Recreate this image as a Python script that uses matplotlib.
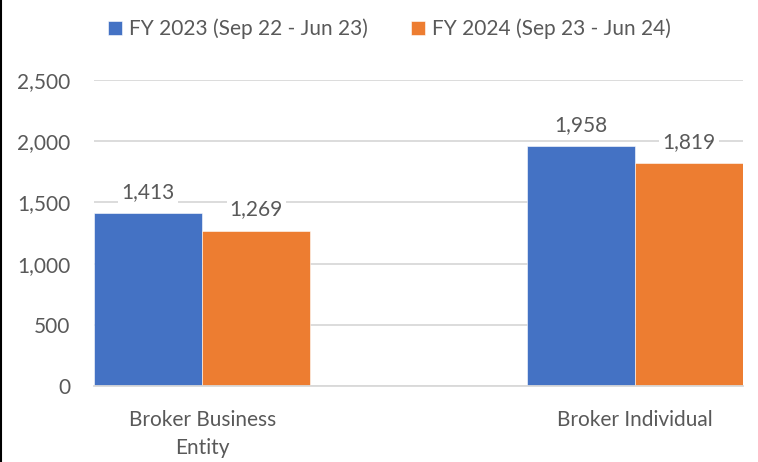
import numpy as np
import matplotlib.pyplot as plt
from matplotlib.lines import Line2D

categories = ["Broker Business\nEntity", "Broker Individual"]
series_names = ["FY 2023 (Sep 22 - Jun 23)", "FY 2024 (Sep 23 - Jun 24)"]
fy2023 = [1413, 1958]
fy2024 = [1269, 1819]
colors = ["#4472C4", "#ED7D31"]

plt.rcParams['font.family'] = ['Lato', 'DejaVu Sans']
text_color = "#595959"
grid_color = "#D9D9D9"
fs = 15

fig = plt.figure(figsize=(7.58, 4.62), dpi=100)
ax = fig.add_axes([94 / 758, 1 - 386 / 462, (743 - 94) / 758, (386 - 80) / 462])

x = np.arange(len(categories))
w = 0.25
bars = []
for i, vals in enumerate([fy2023, fy2024]):
    b = ax.bar(x + (i - 0.5) * w, vals, width=w, color=colors[i],
               edgecolor="white", linewidth=0.4, zorder=3, label=series_names[i])
    bars.append(b)
    for rect, v in zip(b, vals):
        ax.annotate(f"{v:,}", xy=(rect.get_x() + rect.get_width() / 2, v),
                    xytext=(0, 8), textcoords="offset points",
                    ha="center", va="bottom", fontsize=fs, color=text_color,
                    bbox=dict(boxstyle="square,pad=0.15", fc="white", ec="none"),
                    zorder=4)

ax.set_xlim(-0.25, 1.25)
ax.set_ylim(0, 2500)
ax.set_yticks(range(0, 2501, 500))
ax.yaxis.set_major_formatter(plt.FuncFormatter(lambda v, _: f"{int(v):,}"))
ax.set_xticks(x)
ax.set_xticklabels(categories, linespacing=1.55)
ax.tick_params(axis="both", length=0, labelsize=fs, colors=text_color)
ax.tick_params(axis="y", pad=17)
ax.tick_params(axis="x", pad=17)
ax.grid(axis="y", color=grid_color, linewidth=1.3, zorder=0)

for s in ["top", "right", "left"]:
    ax.spines[s].set_visible(False)
ax.spines["bottom"].set_color(grid_color)
ax.spines["bottom"].set_linewidth(1.3)
ax.spines["bottom"].set_zorder(5)

fig.legend(handles=[b[0] for b in bars], labels=series_names, loc="center",
           bbox_to_anchor=(0.514, 1 - 29 / 462), ncol=2, frameon=False,
           fontsize=fs, labelcolor=text_color, handlelength=0.65,
           handleheight=0.65, handletextpad=0.35, columnspacing=2.1)

# left edge border line
fig.add_artist(Line2D([0.001, 0.001], [0, 1], color="black", linewidth=1.5,
                      transform=fig.transFigure))

fig.savefig("out.png", dpi=100)
